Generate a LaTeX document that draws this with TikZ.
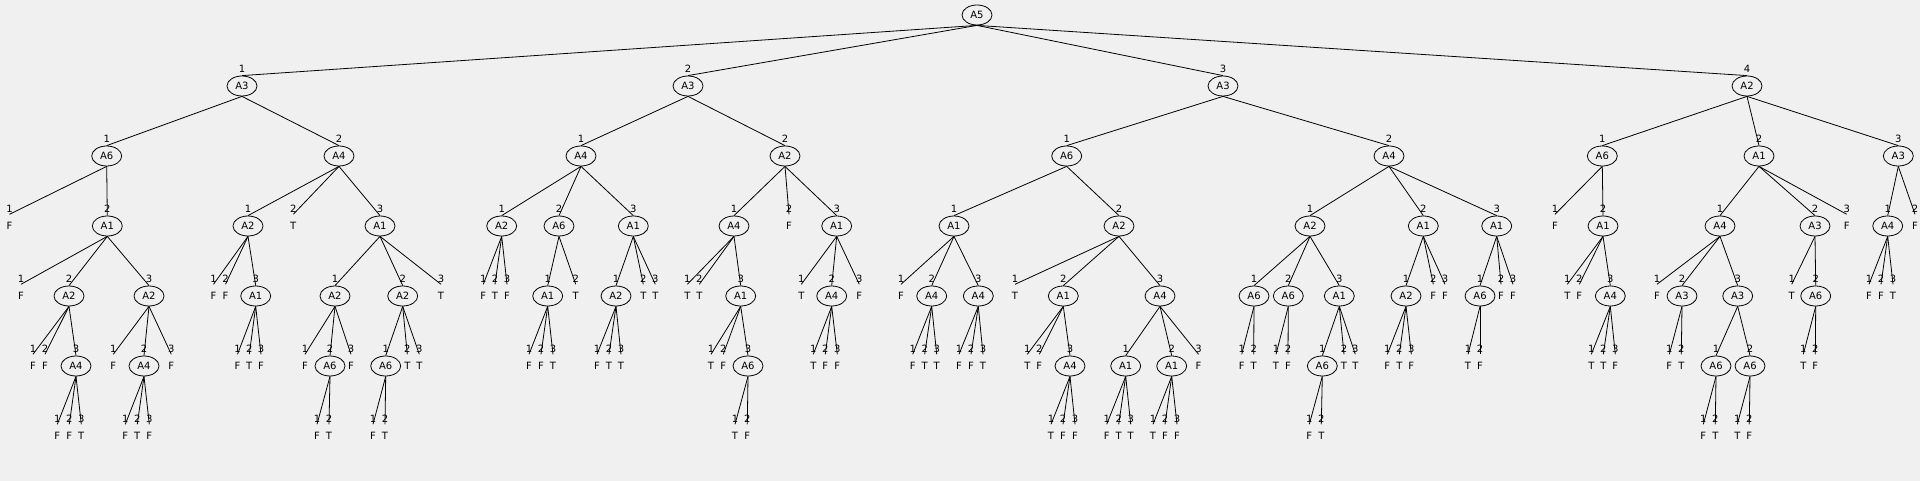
\documentclass[tikz,border=0pt]{standalone}
\usepackage{fontspec}
\setmainfont{DejaVu Sans}
\usetikzlibrary{shapes.geometric}
\definecolor{bgc}{HTML}{F0F0F0}
\tikzset{
  en/.style={ellipse,draw,line width=0.8pt,minimum width=30pt,minimum height=20pt,inner sep=0pt,font=\fontsize{10}{12}\selectfont},
  lf/.style={inner sep=0pt,minimum height=23pt,font=\fontsize{10}{12}\selectfont},
  el/.style={inner sep=0pt,font=\fontsize{10}{12}\selectfont},
  ln/.style={line width=0.8pt}
}
\newcommand\tnode[6]{%
  \node[en,label={[el,label distance=3pt]90:#6}] (#2) at (#3,#4) {#5};
  \draw[ln] (#1.south) -- (#2.north);}
\newcommand\tleaf[6]{%
  \node[lf,label={[el,label distance=1.3pt]90:#6}] (#2) at (#3,#4) {#5};
  \draw[ln] (#1.south) -- (#2.north);}
\begin{document}
\begin{tikzpicture}[x=1pt,y=-1pt]
\fill[bgc] (0,0) rectangle (1920,481);
\useasboundingbox (0,0) rectangle (1920,481);
\node[en] (r) at (977,15) {A5};
% level 1
\tnode{r}{a}{242}{86}{A3}{1}
\tnode{r}{b}{688}{86}{A3}{2}
\tnode{r}{c}{1223}{86}{A3}{3}
\tnode{r}{d}{1747}{86}{A2}{4}
% ===== subtree a
\tnode{a}{a1}{106.7}{156}{A6}{1}
 \tleaf{a1}{a11}{9.5}{226}{F}{1}
 \tnode{a1}{a12}{107.3}{226}{A1}{2}
  \tleaf{a12}{a121}{21}{296}{F}{1}
  \tnode{a12}{a122}{69}{296}{A2}{2}
   \tleaf{a122}{a1221}{33}{366}{F}{1}
   \tleaf{a122}{a1222}{45}{366}{F}{2}
   \tnode{a122}{a1223}{76}{366}{A4}{3}
    \tleaf{a1223}{a12231}{57.3}{436}{F}{1}
    \tleaf{a1223}{a12232}{69.3}{436}{F}{2}
    \tleaf{a1223}{a12233}{81.3}{436}{T}{3}
  \tnode{a12}{a123}{149}{296}{A2}{3}
   \tleaf{a123}{a1231}{113.3}{366}{F}{1}
   \tnode{a123}{a1232}{144}{366}{A4}{2}
    \tleaf{a1232}{a12321}{125.3}{436}{F}{1}
    \tleaf{a1232}{a12322}{137.3}{436}{T}{2}
    \tleaf{a1232}{a12323}{149.3}{436}{F}{3}
   \tleaf{a123}{a1233}{171.3}{366}{F}{3}
\tnode{a}{a2}{339}{156}{A4}{2}
 \tnode{a2}{a21}{248}{226}{A2}{1}
  \tleaf{a21}{a211}{213.5}{296}{F}{1}
  \tleaf{a21}{a212}{225.5}{296}{F}{2}
  \tnode{a21}{a213}{255.7}{296}{A1}{3}
   \tleaf{a213}{a2131}{237.5}{366}{F}{1}
   \tleaf{a213}{a2132}{249.3}{366}{T}{2}
   \tleaf{a213}{a2133}{261}{366}{F}{3}
 \tleaf{a2}{a22}{293.3}{226}{T}{2}
 \tnode{a2}{a23}{380}{226}{A1}{3}
  \tnode{a23}{a231}{335}{296}{A2}{1}
   \tleaf{a231}{a2311}{305}{366}{F}{1}
   \tnode{a231}{a2312}{330}{366}{A6}{2}
    \tleaf{a2312}{a23121}{317}{436}{F}{1}
    \tleaf{a2312}{a23122}{329}{436}{T}{2}
   \tleaf{a231}{a2313}{351}{366}{F}{3}
  \tnode{a23}{a232}{402.7}{296}{A2}{2}
   \tnode{a232}{a2321}{385.7}{366}{A6}{1}
    \tleaf{a2321}{a23211}{373}{436}{F}{1}
    \tleaf{a2321}{a23212}{385}{436}{T}{2}
   \tleaf{a232}{a2322}{407.3}{366}{T}{2}
   \tleaf{a232}{a2323}{419.3}{366}{T}{3}
  \tleaf{a23}{a233}{441}{296}{T}{3}
% ===== subtree b
\tnode{b}{b1}{581}{156}{A4}{1}
 \tnode{b1}{b11}{501.7}{226}{A2}{1}
  \tleaf{b11}{b111}{483.3}{296}{F}{1}
  \tleaf{b11}{b112}{495}{296}{T}{2}
  \tleaf{b11}{b113}{507}{296}{F}{3}
 \tnode{b1}{b12}{559}{226}{A6}{2}
  \tnode{b12}{b121}{547.7}{296}{A1}{1}
   \tleaf{b121}{b1211}{529}{366}{F}{1}
   \tleaf{b121}{b1212}{541}{366}{F}{2}
   \tleaf{b121}{b1213}{553}{366}{T}{3}
  \tleaf{b12}{b122}{575.7}{296}{T}{2}
 \tnode{b1}{b13}{633.3}{226}{A1}{3}
  \tnode{b13}{b131}{616}{296}{A2}{1}
   \tleaf{b131}{b1311}{597}{366}{F}{1}
   \tleaf{b131}{b1312}{609}{366}{T}{2}
   \tleaf{b131}{b1313}{621}{366}{T}{3}
  \tleaf{b13}{b132}{643.3}{296}{T}{2}
  \tleaf{b13}{b133}{655.3}{296}{T}{3}
\tnode{b}{b2}{785}{156}{A2}{2}
 \tnode{b2}{b21}{734}{226}{A4}{1}
  \tleaf{b21}{b211}{687.3}{296}{T}{1}
  \tleaf{b21}{b212}{699.3}{296}{T}{2}
  \tnode{b21}{b213}{740.7}{296}{A1}{3}
   \tleaf{b213}{b2131}{711}{366}{T}{1}
   \tleaf{b213}{b2132}{723.3}{366}{F}{2}
   \tnode{b213}{b2133}{748}{366}{A6}{3}
    \tleaf{b2133}{b21331}{735}{436}{T}{1}
    \tleaf{b2133}{b21332}{747.3}{436}{F}{2}
 \tleaf{b2}{b22}{789}{226}{F}{2}
 \tnode{b2}{b23}{836.7}{226}{A1}{3}
  \tleaf{b23}{b231}{801.3}{296}{T}{1}
  \tnode{b23}{b232}{831.7}{296}{A4}{2}
   \tleaf{b232}{b2321}{813.3}{366}{T}{1}
   \tleaf{b232}{b2322}{825.3}{366}{F}{2}
   \tleaf{b232}{b2323}{837.3}{366}{F}{3}
  \tleaf{b23}{b233}{859.3}{296}{F}{3}
% ===== subtree c
\tnode{c}{c1}{1066.7}{156}{A6}{1}
 \tnode{c1}{c11}{954}{226}{A1}{1}
  \tleaf{c11}{c111}{901}{296}{F}{1}
  \tnode{c11}{c112}{931.7}{296}{A4}{2}
   \tleaf{c112}{c1121}{912.7}{366}{F}{1}
   \tleaf{c112}{c1122}{924.7}{366}{T}{2}
   \tleaf{c112}{c1123}{936.7}{366}{T}{3}
  \tnode{c11}{c113}{978.3}{296}{A4}{3}
   \tleaf{c113}{c1131}{959}{366}{F}{1}
   \tleaf{c113}{c1132}{971}{366}{F}{2}
   \tleaf{c113}{c1133}{983}{366}{T}{3}
 \tnode{c1}{c12}{1119}{226}{A2}{2}
  \tleaf{c12}{c121}{1015}{296}{T}{1}
  \tnode{c12}{c122}{1063.3}{296}{A1}{2}
   \tleaf{c122}{c1221}{1027.3}{366}{T}{1}
   \tleaf{c122}{c1222}{1039.3}{366}{F}{2}
   \tnode{c122}{c1223}{1070}{366}{A4}{3}
    \tleaf{c1223}{c12231}{1051}{436}{T}{1}
    \tleaf{c1223}{c12232}{1063}{436}{F}{2}
    \tleaf{c1223}{c12233}{1075}{436}{F}{3}
  \tnode{c12}{c123}{1160}{296}{A4}{3}
   \tnode{c123}{c1231}{1125.7}{366}{A1}{1}
    \tleaf{c1231}{c12311}{1106.7}{436}{F}{1}
    \tleaf{c1231}{c12312}{1118.7}{436}{T}{2}
    \tleaf{c1231}{c12313}{1130.7}{436}{T}{3}
   \tnode{c123}{c1232}{1171.7}{366}{A1}{2}
    \tleaf{c1232}{c12321}{1153}{436}{T}{1}
    \tleaf{c1232}{c12322}{1165}{436}{F}{2}
    \tleaf{c1232}{c12323}{1177}{436}{F}{3}
   \tleaf{c123}{c1233}{1198.5}{366}{F}{3}
\tnode{c}{c2}{1389}{156}{A4}{2}
 \tnode{c2}{c21}{1310}{226}{A2}{1}
  \tnode{c21}{c211}{1254}{296}{A6}{1}
   \tleaf{c211}{c2111}{1241.7}{366}{F}{1}
   \tleaf{c211}{c2112}{1253.7}{366}{T}{2}
  \tnode{c21}{c212}{1288.3}{296}{A6}{2}
   \tleaf{c212}{c2121}{1276}{366}{T}{1}
   \tleaf{c212}{c2122}{1288}{366}{F}{2}
  \tnode{c21}{c213}{1339.3}{296}{A1}{3}
   \tnode{c213}{c2131}{1322.3}{366}{A6}{1}
    \tleaf{c2131}{c21311}{1309.3}{436}{F}{1}
    \tleaf{c2131}{c21312}{1321.3}{436}{T}{2}
   \tleaf{c213}{c2132}{1344}{366}{T}{2}
   \tleaf{c213}{c2133}{1355.3}{366}{T}{3}
 \tnode{c2}{c22}{1423.3}{226}{A1}{2}
  \tnode{c22}{c221}{1406}{296}{A2}{1}
   \tleaf{c221}{c2211}{1387.3}{366}{F}{1}
   \tleaf{c221}{c2212}{1399.3}{366}{T}{2}
   \tleaf{c221}{c2213}{1411.3}{366}{F}{3}
  \tleaf{c22}{c222}{1433.3}{296}{F}{2}
  \tleaf{c22}{c223}{1445}{296}{F}{3}
 \tnode{c2}{c23}{1496.7}{226}{A1}{3}
  \tnode{c23}{c231}{1480}{296}{A6}{1}
   \tleaf{c231}{c2311}{1468}{366}{T}{1}
   \tleaf{c231}{c2312}{1480}{366}{F}{2}
  \tleaf{c23}{c232}{1501}{296}{F}{2}
  \tleaf{c23}{c233}{1513}{296}{F}{3}
% ===== subtree d
\tnode{d}{d1}{1602.3}{156}{A6}{1}
 \tleaf{d1}{d11}{1555}{226}{F}{1}
 \tnode{d1}{d12}{1603}{226}{A1}{2}
  \tleaf{d12}{d121}{1567.3}{296}{T}{1}
  \tleaf{d12}{d122}{1579.3}{296}{F}{2}
  \tnode{d12}{d123}{1610.3}{296}{A4}{3}
   \tleaf{d123}{d1231}{1591.3}{366}{T}{1}
   \tleaf{d123}{d1232}{1603.3}{366}{T}{2}
   \tleaf{d123}{d1233}{1615.3}{366}{F}{3}
\tnode{d}{d2}{1759}{156}{A1}{2}
 \tnode{d2}{d21}{1720}{226}{A4}{1}
  \tleaf{d21}{d211}{1657}{296}{F}{1}
  \tnode{d21}{d212}{1682}{296}{A3}{2}
   \tleaf{d212}{d2121}{1669.3}{366}{F}{1}
   \tleaf{d212}{d2122}{1681.3}{366}{T}{2}
  \tnode{d21}{d213}{1737.7}{296}{A3}{3}
   \tnode{d213}{d2131}{1716}{366}{A6}{1}
    \tleaf{d2131}{d21311}{1703.3}{436}{F}{1}
    \tleaf{d2131}{d21312}{1715.3}{436}{T}{2}
   \tnode{d213}{d2132}{1750}{366}{A6}{2}
    \tleaf{d2132}{d21321}{1737.3}{436}{T}{1}
    \tleaf{d2132}{d21322}{1749.3}{436}{F}{2}
 \tnode{d2}{d22}{1815}{226}{A3}{2}
  \tleaf{d22}{d221}{1791.7}{296}{T}{1}
  \tnode{d22}{d222}{1815.7}{296}{A6}{2}
   \tleaf{d222}{d2221}{1803.3}{366}{T}{1}
   \tleaf{d222}{d2222}{1815.3}{366}{F}{2}
 \tleaf{d2}{d23}{1846.7}{226}{F}{3}
\tnode{d}{d3}{1898.3}{156}{A3}{3}
 \tnode{d3}{d31}{1887.7}{226}{A4}{1}
  \tleaf{d31}{d311}{1869}{296}{F}{1}
  \tleaf{d31}{d312}{1881}{296}{F}{2}
  \tleaf{d31}{d313}{1893}{296}{T}{3}
 \tleaf{d3}{d32}{1915}{226}{F}{2}
\end{tikzpicture}
\end{document}
